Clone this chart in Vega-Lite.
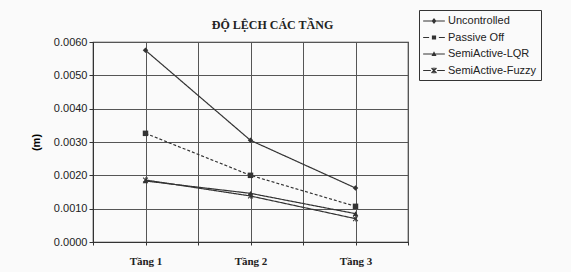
{
  "$schema": "https://vega.github.io/schema/vega-lite/v6.json",
  "width": 315,
  "height": 200,
  "autosize": {"type": "none"},
  "padding": {"left": 93, "top": 42, "right": 163, "bottom": 30},
  "background": "#fafafa",
  "title": {
    "text": "ĐỘ LỆCH CÁC TẦNG",
    "font": "Liberation Serif",
    "fontSize": 12,
    "fontWeight": "bold",
    "color": "#222",
    "anchor": "middle",
    "dx": 22,
    "offset": -22
  },
  "config": {
    "view": {"stroke": "#333", "strokeWidth": 1.2},
    "axis": {
      "gridColor": "#555",
      "gridOpacity": 1,
      "gridWidth": 1,
      "domainColor": "#333",
      "tickColor": "#333",
      "labelColor": "#222"
    }
  },
  "data": {
    "values": [
      {"series": "Uncontrolled", "floor": 1, "value": 0.00575},
      {"series": "Uncontrolled", "floor": 2, "value": 0.00305},
      {"series": "Uncontrolled", "floor": 3, "value": 0.00162},
      {"series": "Passive Off", "floor": 1, "value": 0.00326},
      {"series": "Passive Off", "floor": 2, "value": 0.002},
      {"series": "Passive Off", "floor": 3, "value": 0.00107},
      {"series": "SemiActive-LQR", "floor": 1, "value": 0.00183},
      {"series": "SemiActive-LQR", "floor": 2, "value": 0.00146},
      {"series": "SemiActive-LQR", "floor": 3, "value": 0.00085},
      {"series": "SemiActive-Fuzzy", "floor": 1, "value": 0.00186},
      {"series": "SemiActive-Fuzzy", "floor": 2, "value": 0.00138},
      {"series": "SemiActive-Fuzzy", "floor": 3, "value": 0.0007}
    ]
  },
  "encoding": {
    "x": {
      "field": "floor",
      "type": "quantitative",
      "scale": {"domain": [0.5, 3.5], "nice": false, "zero": false},
      "axis": {
        "title": null,
        "values": [0.5, 1, 1.5, 2, 2.5, 3, 3.5],
        "labelExpr": "datum.value % 1 == 0 ? 'Tầng ' + datum.value : ''",
        "labelFont": "Liberation Serif",
        "labelFontWeight": "bold",
        "labelFontSize": 11,
        "labelPadding": 10,
        "tickSize": 3,
        "grid": true
      }
    },
    "y": {
      "field": "value",
      "type": "quantitative",
      "scale": {"domain": [0, 0.006], "nice": false},
      "axis": {
        "title": "(m)",
        "titleFont": "Liberation Sans",
        "titleFontSize": 11,
        "titleFontWeight": "bold",
        "titlePadding": 12,
        "values": [0, 0.001, 0.002, 0.003, 0.004, 0.005, 0.006],
        "format": ".4f",
        "labelFont": "Liberation Sans",
        "labelFontSize": 11,
        "tickSize": 4,
        "grid": true
      }
    }
  },
  "resolve": {
    "scale": {"shape": "independent"},
    "legend": {"strokeDash": "independent", "shape": "independent"}
  },
  "layer": [
    {
      "mark": {"type": "line", "color": "#333", "strokeWidth": 1.2},
      "encoding": {
        "detail": {"field": "series"},
        "strokeDash": {
          "field": "series",
          "scale": {
            "domain": ["Uncontrolled", "Passive Off", "SemiActive-LQR", "SemiActive-Fuzzy"],
            "range": [[1, 0], [3, 2], [1, 0], [1, 0]]
          },
          "legend": null
        }
      }
    },
    {
      "mark": {"type": "point", "filled": true, "color": "#333", "size": 30, "opacity": 1},
      "encoding": {
        "shape": {
          "field": "series",
          "scale": {
            "domain": ["Uncontrolled", "Passive Off", "SemiActive-LQR", "SemiActive-Fuzzy"],
            "range": [
              "diamond",
              "square",
              "triangle-up",
              "M-1,-0.75L-0.75,-1L1,0.75L0.75,1Z M-1,0.75L0.75,-1L1,-0.75L-0.75,1Z M-0.13,-1L0.13,-1L0.13,1L-0.13,1Z"
            ]
          },
          "legend": null
        }
      }
    },
    {
      "transform": [{"filter": "false"}],
      "mark": {"type": "point", "filled": true, "fill": "#333", "strokeWidth": 0, "opacity": 1},
      "encoding": {
        "shape": {
          "field": "series",
          "scale": {
            "domain": ["Uncontrolled", "Passive Off", "SemiActive-LQR", "SemiActive-Fuzzy"],
            "range": [
              "M-1.55,-0.08L1.55,-0.08L1.55,0.08L-1.55,0.08Z M0,-0.42L0.34,0L0,0.42L-0.34,0Z",
              "M-1.55,-0.08L-0.7,-0.08L-0.7,0.08L-1.55,0.08Z M0.7,-0.08L1.55,-0.08L1.55,0.08L0.7,0.08Z M-0.3,-0.3L0.3,-0.3L0.3,0.3L-0.3,0.3Z",
              "M-1.55,-0.08L1.55,-0.08L1.55,0.08L-1.55,0.08Z M0,-0.38L0.36,0.28L-0.36,0.28Z",
              "M-1.55,-0.08L-0.45,-0.08L-0.45,0.08L-1.55,0.08Z M0.45,-0.08L1.55,-0.08L1.55,0.08L0.45,0.08Z M-0.42,-0.28L-0.28,-0.42L0.42,0.28L0.28,0.42Z M-0.42,0.28L0.28,-0.42L0.42,-0.28L-0.28,0.42Z M-0.08,-0.42L0.08,-0.42L0.08,0.42L-0.08,0.42Z"
            ]
          },
          "legend": {
            "title": null,
            "orient": "none",
            "legendX": 326,
            "legendY": -32,
            "strokeColor": "#333",
            "fillColor": "#fafafa",
            "padding": 4,
            "rowPadding": 4.5,
            "labelFont": "Liberation Sans",
            "labelFontSize": 11,
            "labelColor": "#222",
            "symbolSize": 196,
            "symbolStrokeWidth": 0,
            "symbolFillColor": "#333",
            "symbolOffset": 4,
            "labelOffset": 7
          }
        }
      }
    }
  ]
}
